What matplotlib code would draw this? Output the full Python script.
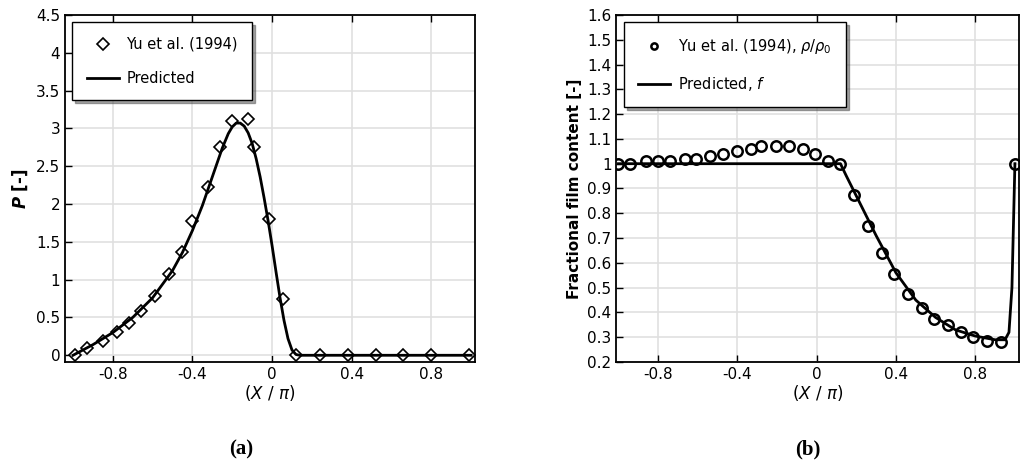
import matplotlib
matplotlib.use("Agg")
import matplotlib.pyplot as plt

# Panel (a)
a_exp_x = [-0.99, -0.93, -0.85, -0.78, -0.72, -0.66, -0.59, -0.52, -0.45, -0.40, -0.32, -0.26, -0.20, -0.12, -0.09, -0.015, 0.056, 0.12, 0.24, 0.38, 0.52, 0.66, 0.80, 0.99]
a_exp_y = [0.0, 0.09, 0.19, 0.31, 0.43, 0.59, 0.78, 1.07, 1.36, 1.78, 2.23, 2.75, 3.10, 3.12, 2.76, 1.80, 0.74, 0.0, 0.0, 0.0, 0.0, 0.0, 0.0, 0.0]
a_pred_x = [-1.0, -0.9, -0.8, -0.7, -0.6, -0.5, -0.45, -0.4, -0.35, -0.3, -0.25, -0.22, -0.2, -0.18, -0.16, -0.14, -0.12, -0.1, -0.08, -0.06, -0.04, -0.02, 0.0, 0.02, 0.04, 0.06, 0.08, 0.1, 0.12, 0.14, 1.0]
a_pred_y = [0.0, 0.14, 0.3, 0.5, 0.76, 1.12, 1.36, 1.65, 1.98, 2.36, 2.74, 2.93, 3.02, 3.07, 3.07, 3.03, 2.94, 2.8, 2.6, 2.36, 2.08, 1.78, 1.45, 1.1, 0.76, 0.46, 0.22, 0.07, 0.01, 0.0, 0.0]

# Panel (b)
b_exp_x = [-1.0, -0.94, -0.86, -0.80, -0.74, -0.665, -0.61, -0.54, -0.47, -0.40, -0.33, -0.28, -0.205, -0.14, -0.07, -0.01, 0.055, 0.12, 0.19, 0.26, 0.33, 0.39, 0.46, 0.53, 0.59, 0.66, 0.73, 0.79, 0.86, 0.93, 1.0]
b_exp_y = [1.0, 1.0, 1.01, 1.01, 1.01, 1.02, 1.02, 1.03, 1.04, 1.05, 1.06, 1.07, 1.07, 1.07, 1.06, 1.04, 1.01, 1.0, 0.875, 0.75, 0.64, 0.555, 0.474, 0.42, 0.375, 0.35, 0.32, 0.30, 0.287, 0.28, 1.0]
b_pred_x = [-1.0, 0.12, 0.15, 0.2, 0.3, 0.4, 0.5, 0.6, 0.7, 0.8, 0.9, 0.95, 0.97, 0.985, 1.0]
b_pred_y = [1.0, 1.0, 0.95, 0.87, 0.71, 0.56, 0.45, 0.38, 0.33, 0.305, 0.29, 0.29, 0.32, 0.5, 1.0]

xticks = [-0.8, -0.4, 0, 0.4, 0.8]
xticklabels = ["-0.8", "-0.4", "0", "0.4", "0.8"]
a_yticks = [0, 0.5, 1, 1.5, 2, 2.5, 3, 3.5, 4, 4.5]
a_yticklabels = ["0", "0.5", "1", "1.5", "2", "2.5", "3", "3.5", "4", "4.5"]
b_yticks = [0.2, 0.3, 0.4, 0.5, 0.6, 0.7, 0.8, 0.9, 1.0, 1.1, 1.2, 1.3, 1.4, 1.5, 1.6]
b_yticklabels = ["0.2", "0.3", "0.4", "0.5", "0.6", "0.7", "0.8", "0.9", "1", "1.1", "1.2", "1.3", "1.4", "1.5", "1.6"]

fig = plt.figure(figsize=(10.24, 4.66), dpi=100)
axa = fig.add_axes([0.0635, 0.223, 0.4005, 0.745])
axb = fig.add_axes([0.602, 0.223, 0.393, 0.745])

def style(ax, yticks, yticklabels):
    ax.set_xticks(xticks)
    ax.set_xticklabels(xticklabels, fontsize=11)
    ax.set_yticks(yticks)
    ax.set_yticklabels(yticklabels, fontsize=11)
    ax.grid(True, color="#e0e0e0", linewidth=1.2)
    ax.set_axisbelow(True)
    ax.tick_params(direction="in", top=True, right=False, length=5, width=1)
    for s in ax.spines.values():
        s.set_linewidth(1.3)
    ax.set_xlabel(r"$(X\ /\ \pi)$", fontsize=12, labelpad=1)

axa.plot(a_exp_x, a_exp_y, "D", ms=6, mfc="white", mec="black", mew=1.2, ls="none", label="Yu et al. (1994)")
axa.plot(a_pred_x, a_pred_y, "-", color="black", lw=2, label="Predicted")
axa.set_xlim(-1.04, 1.02)
axa.set_ylim(-0.09, 4.5)
style(axa, a_yticks, a_yticklabels)
axa.set_ylabel(r"$\boldsymbol{P}$ [-]", fontsize=12, fontweight="bold")
axa.legend(loc="upper left", fontsize=10.5, frameon=True, fancybox=False, edgecolor="black",
           shadow=True, borderpad=1.0, labelspacing=1.3, handlelength=2.2, handletextpad=0.5)

axb.plot(b_exp_x, b_exp_y, "o", ms=7.5, mfc="none", mec="black", mew=1.8, ls="none", label=r"Yu et al. (1994), $\rho/\rho_0$")
axb.plot(b_pred_x, b_pred_y, "-", color="black", lw=2, label=r"Predicted, $f$")
axb.set_xlim(-1.01, 1.02)
axb.set_ylim(0.2, 1.6)
style(axb, b_yticks, b_yticklabels)
axb.set_ylabel("Fractional film content [-]", fontsize=11, fontweight="bold")
axb.legend(loc="upper left", fontsize=10.5, frameon=True, fancybox=False, edgecolor="black",
           shadow=True, borderpad=1.0, labelspacing=1.3, handlelength=2.2, handletextpad=0.5, markerscale=0.6)

fig.text(0.236, 0.025, "(a)", fontsize=15, fontweight="bold", family="Liberation Serif", ha="center")
fig.text(0.789, 0.025, "(b)", fontsize=15, fontweight="bold", family="Liberation Serif", ha="center")

fig.savefig("out.png", dpi=100)
